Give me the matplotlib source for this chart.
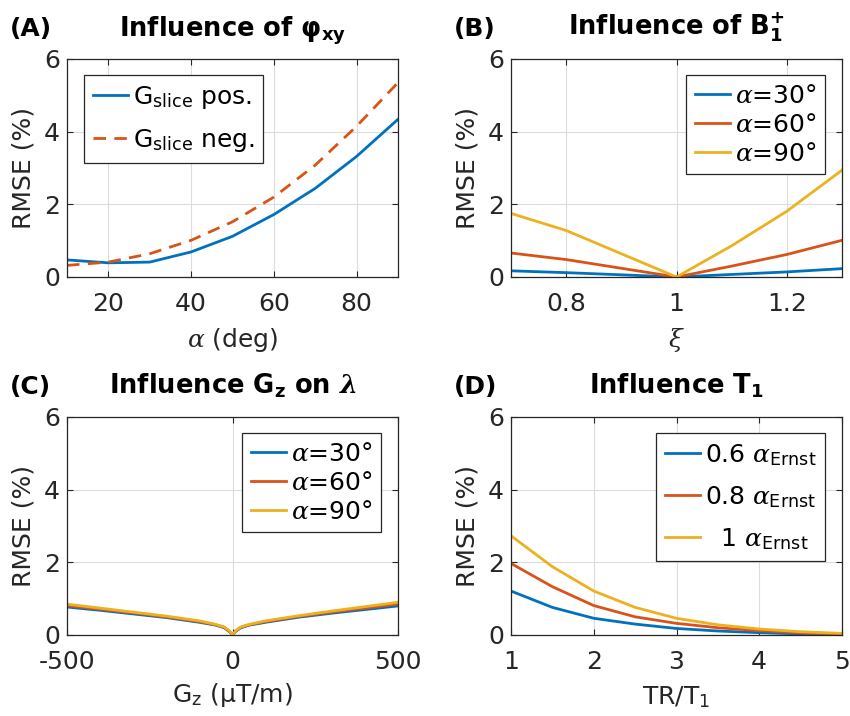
import numpy as np
import matplotlib
matplotlib.use("Agg")
import matplotlib.pyplot as plt

plt.rcParams["font.family"] = ["DejaVu Sans"]
plt.rcParams["axes.unicode_minus"] = False
plt.rcParams["mathtext.fontset"] = "custom"
plt.rcParams["mathtext.rm"] = "DejaVu Sans"
plt.rcParams["mathtext.it"] = "DejaVu Serif:italic"
plt.rcParams["mathtext.bf"] = "DejaVu Sans:bold"
plt.rcParams["mathtext.bfit"] = "DejaVu Serif:italic:bold"
plt.rcParams["mathtext.sf"] = "DejaVu Sans"

# MATLAB default colours
BLUE, ORANGE, YELLOW = "#0072BD", "#D95319", "#EDB120"
DARK = "#262626"

# (A) influence of phi_xy
alpha_deg = [10, 20, 30, 40, 50, 60, 70, 80, 90]
rmse_pos = [0.47, 0.39, 0.41, 0.69, 1.12, 1.72, 2.44, 3.32, 4.34]
rmse_neg = [0.32, 0.41, 0.64, 1.01, 1.52, 2.20, 3.08, 4.15, 5.35]

# (B) influence of B1+
xi = [0.7, 0.8, 0.9, 1.0, 1.1, 1.2, 1.3]
b1_30 = [0.17, 0.12, 0.06, 0.0, 0.07, 0.14, 0.23]
b1_60 = [0.66, 0.48, 0.24, 0.0, 0.30, 0.62, 1.01]
b1_90 = [1.75, 1.28, 0.64, 0.0, 0.86, 1.81, 2.94]

# (C) influence of Gz on lambda
gz = [-500, -400, -300, -200, -100, -50, -25, -10, 0, 10, 25, 50, 100, 200, 300, 400, 500]
gz_30 = [0.77, 0.68, 0.58, 0.48, 0.35, 0.27, 0.20, 0.10, 0.0, 0.10, 0.20, 0.27, 0.35, 0.49, 0.60, 0.70, 0.80]
gz_60 = [0.81, 0.71, 0.61, 0.50, 0.37, 0.28, 0.21, 0.11, 0.0, 0.11, 0.21, 0.28, 0.37, 0.51, 0.63, 0.74, 0.85]
gz_90 = [0.85, 0.74, 0.63, 0.52, 0.39, 0.29, 0.22, 0.12, 0.0, 0.12, 0.22, 0.29, 0.39, 0.53, 0.66, 0.78, 0.90]

# (D) influence of T1
tr_t1 = [1.0, 1.5, 2.0, 2.5, 3.0, 3.5, 4.0, 4.5, 5.0]
t1_06 = [1.21, 0.76, 0.46, 0.30, 0.18, 0.11, 0.064, 0.03, 0.01]
t1_08 = [1.97, 1.33, 0.81, 0.50, 0.32, 0.20, 0.12, 0.06, 0.025]
t1_10 = [2.73, 1.88, 1.21, 0.76, 0.46, 0.28, 0.165, 0.09, 0.045]

fig = plt.figure(figsize=(8.5, 7.16), dpi=100)
W, H = 850, 716


def make_ax(x0, y0, x1, y1):
    ax = fig.add_axes([x0 / W, 1 - y1 / H, (x1 - x0) / W, (y1 - y0) / H])
    ax.set_ylim(0, 6)
    ax.set_yticks([0, 2, 4, 6])
    ax.grid(True, color="#dcdcdc", lw=0.8)
    ax.set_axisbelow(True)
    ax.tick_params(direction="in", length=4, width=0.8, colors=DARK,
                   labelsize=18, top=True, right=True)
    ax.tick_params(axis="x", pad=11)
    ax.tick_params(axis="y", pad=5)
    for s in ax.spines.values():
        s.set_color(DARK)
        s.set_linewidth(0.9)
    ax.set_ylabel("RMSE (%)", fontsize=18, color=DARK, labelpad=6)
    return ax


def legend(ax, loc, anchor, spacing=0.3):
    leg = ax.legend(loc=loc, bbox_to_anchor=anchor, borderaxespad=0,
                    fontsize=18, handlelength=1.4, handletextpad=0.2,
                    labelspacing=spacing, borderpad=0.35, fancybox=False,
                    framealpha=1, edgecolor=DARK)
    leg.get_frame().set_linewidth(0.9)
    return leg


def panel_label(ax, txt, title):
    ax.set_title(title, fontsize=18.5, fontweight="bold", pad=17)
    ax.text(-57 / 331, 1 + 18 / 218, txt, transform=ax.transAxes, fontsize=18,
            fontweight="bold", va="bottom", ha="left")


# A
axA = make_ax(67, 59, 398, 277)
axA.plot(alpha_deg, rmse_pos, color=BLUE, lw=2, label=r"G$_\mathrm{slice}$ pos.")
axA.plot(alpha_deg, rmse_neg, color=ORANGE, lw=2, ls=(0, (4.5, 3)),
         label=r"G$_\mathrm{slice}$ neg.")
axA.set_xlim(10, 90)
axA.set_xticks([20, 40, 60, 80])
axA.set_xlabel(r"$\alpha$ (deg)", fontsize=18, color=DARK, labelpad=7)
legend(axA, "upper left", (0.051, 0.927), 0.65)
panel_label(axA, "(A)", r"Influence of φ$_\mathbf{xy}$")

# B
axB = make_ax(511, 59, 842, 277)
axB.plot(xi, b1_30, color=BLUE, lw=2, label=r"$\alpha$=30°")
axB.plot(xi, b1_60, color=ORANGE, lw=2, label=r"$\alpha$=60°")
axB.plot(xi, b1_90, color=YELLOW, lw=2, label=r"$\alpha$=90°")
axB.set_xlim(0.7, 1.3)
axB.set_xticks([0.8, 1.0, 1.2])
axB.set_xticklabels(["0.8", "1", "1.2"])
axB.set_xlabel(r"$\xi$", fontsize=18, color=DARK, labelpad=7)
legend(axB, "upper right", (0.949, 0.927), 0.2)
panel_label(axB, "(B)", r"Influence of B$_\mathbf{1}^\mathbf{+}$")

# C
axC = make_ax(67, 417, 398, 635)
axC.plot(gz, gz_30, color=BLUE, lw=2, label=r"$\alpha$=30°")
axC.plot(gz, gz_60, color=ORANGE, lw=2, label=r"$\alpha$=60°")
axC.plot(gz, gz_90, color=YELLOW, lw=2, label=r"$\alpha$=90°")
axC.set_xlim(-500, 500)
axC.set_xticks([-500, 0, 500])
axC.set_xlabel(r"G$_\mathrm{z}$ (µT/m)", fontsize=18, color=DARK, labelpad=5)
legend(axC, "upper right", (0.949, 0.927), 0.2)
panel_label(axC, "(C)", r"Influence G$_\mathbf{z}$ on $\mathbfit{\lambda}$")

# D
axD = make_ax(511, 417, 842, 635)
axD.plot(tr_t1, t1_06, color=BLUE, lw=2, label=r"0.6 $\alpha_\mathrm{Ernst}$")
axD.plot(tr_t1, t1_08, color=ORANGE, lw=2, label=r"0.8 $\alpha_\mathrm{Ernst}$")
axD.plot(tr_t1, t1_10, color=YELLOW, lw=2, label=r"  1 $\alpha_\mathrm{Ernst}$")
axD.set_xlim(1, 5)
axD.set_xticks([1, 2, 3, 4, 5])
axD.set_xlabel(r"TR/T$_1$", fontsize=18, color=DARK, labelpad=7)
legend(axD, "upper right", (0.949, 0.927), 0.65)
panel_label(axD, "(D)", r"Influence T$_\mathbf{1}$")

fig.savefig("out.png", dpi=100)
